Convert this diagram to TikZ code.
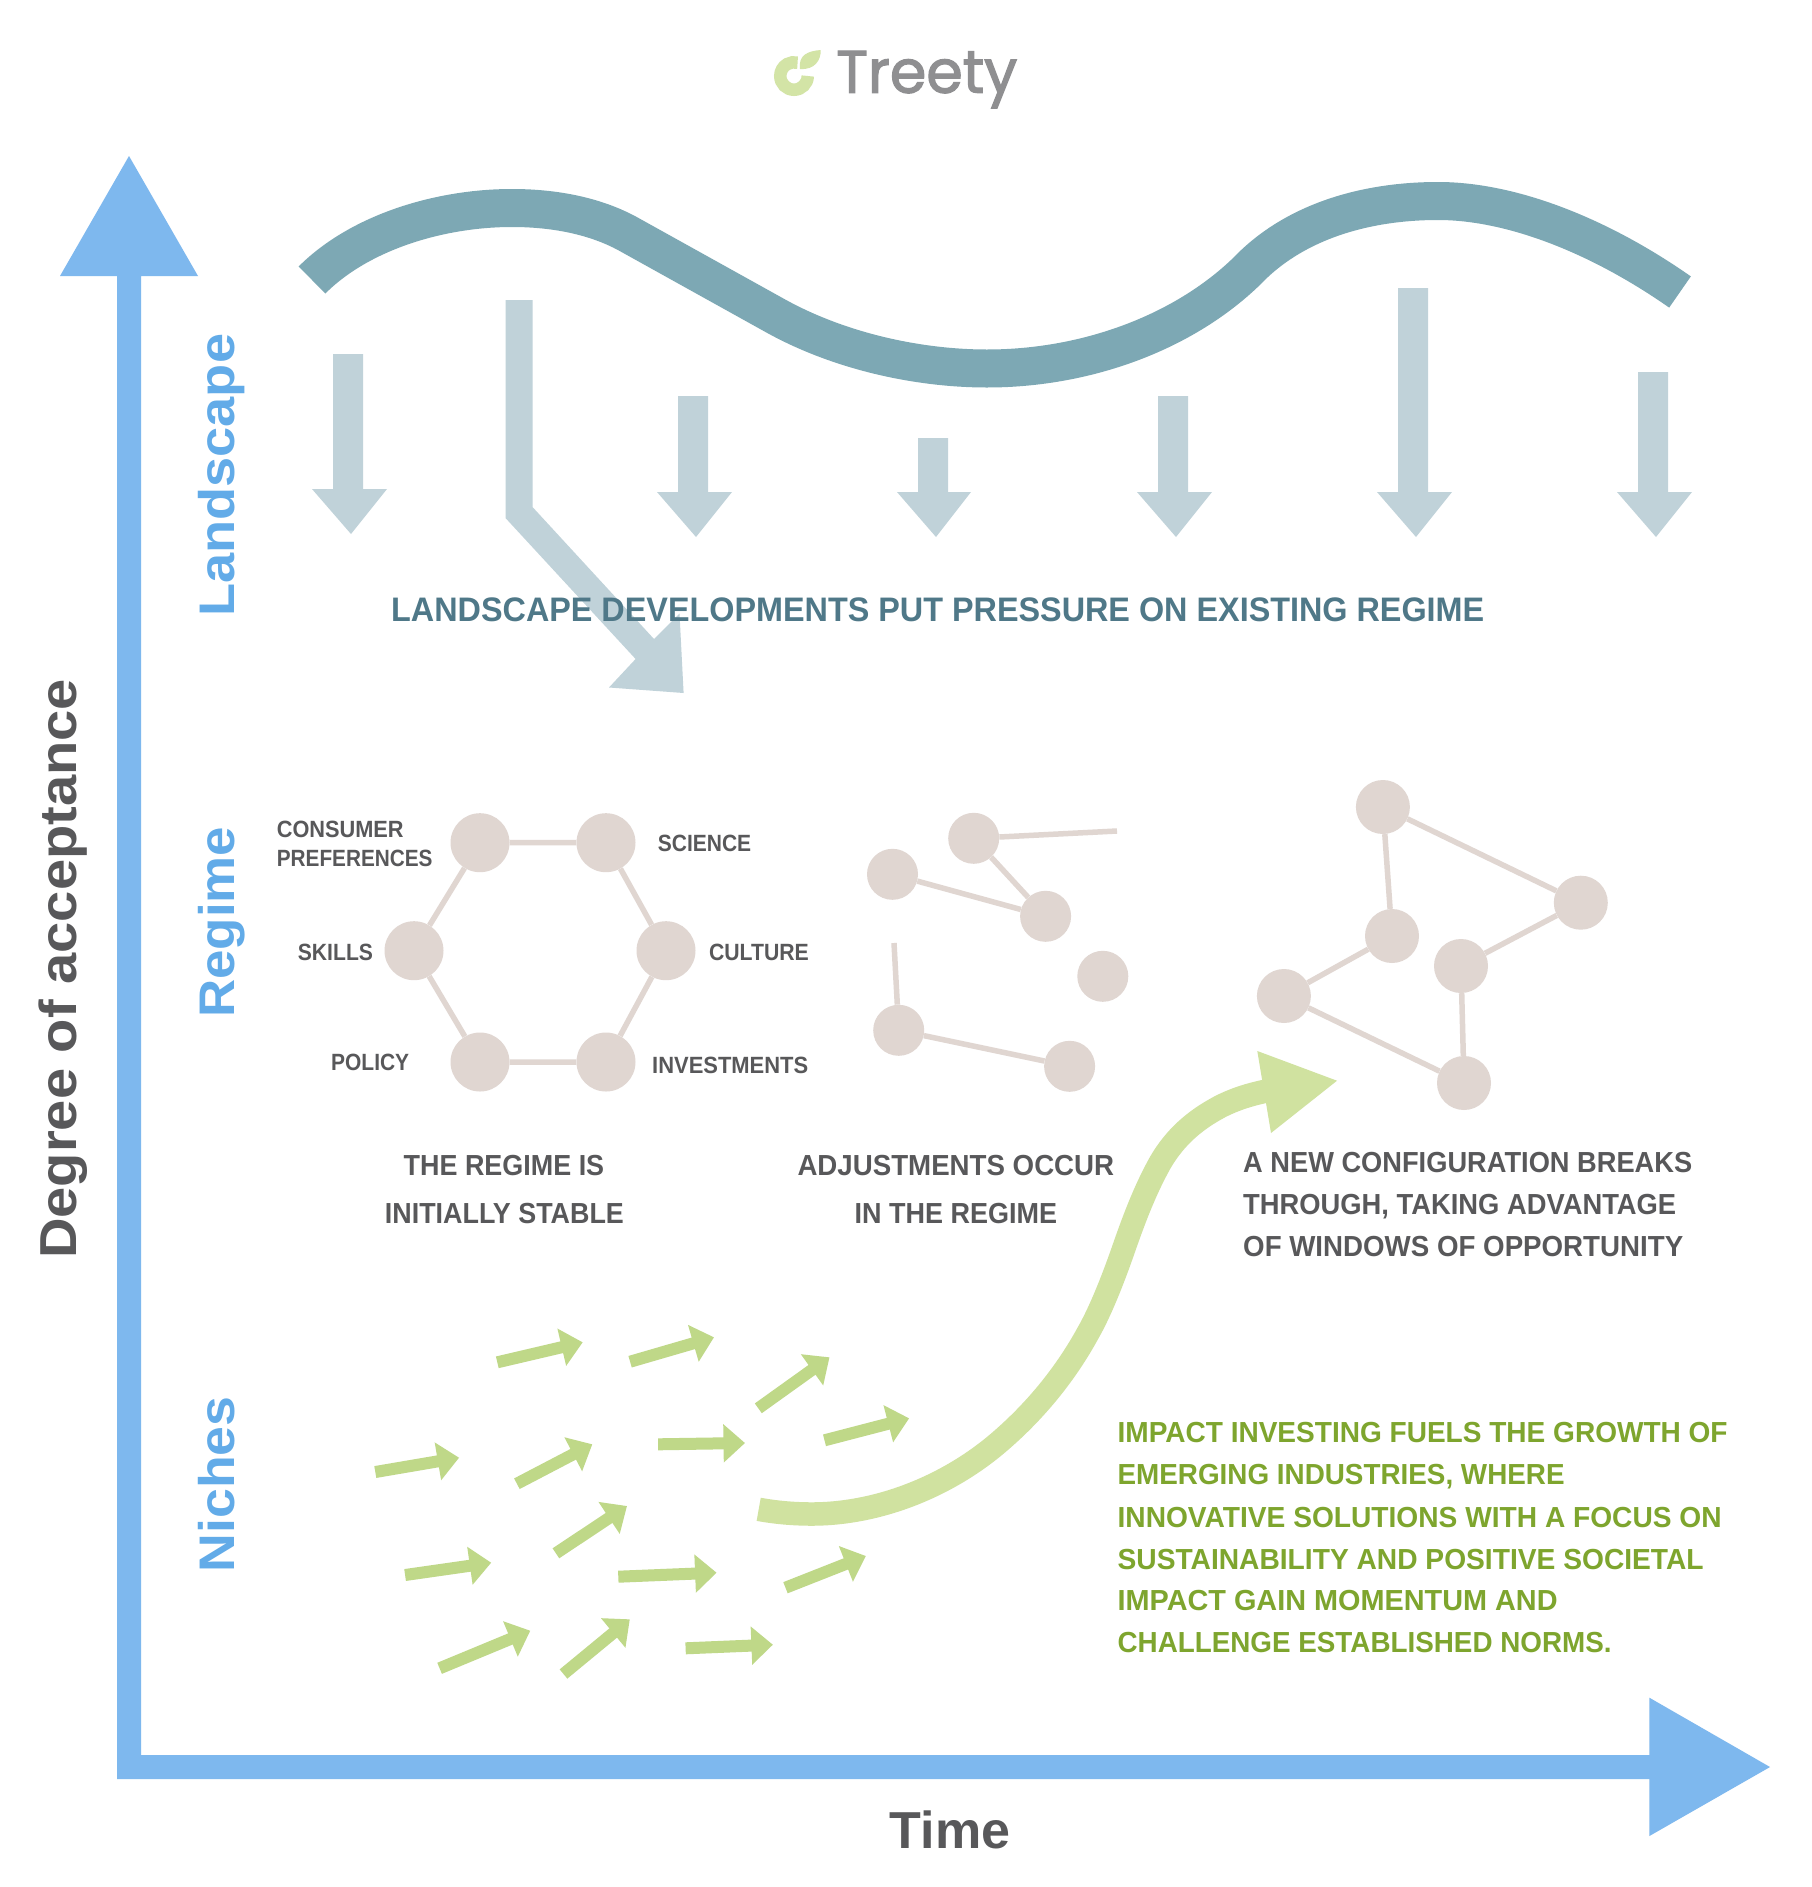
\documentclass[tikz,border=0pt]{standalone}
\usepackage{graphicx}
\usepackage{fontspec}
\setmainfont{Liberation Sans}
\newfontfamily\logofont[FakeBold=2]{Poppins}
\usetikzlibrary{arrows.meta}
\definecolor{axisblue}{HTML}{7EB8EE}
\definecolor{labelblue}{HTML}{62ABE8}
\definecolor{wavecol}{HTML}{7DA8B4}
\definecolor{pressure}{HTML}{C0D2D9}
\definecolor{tealtext}{HTML}{4F7888}
\definecolor{ink}{HTML}{58585A}
\definecolor{logogrey}{HTML}{8F8F91}
\definecolor{leaf}{HTML}{D3E4A6}
\definecolor{dot}{HTML}{E0D6D1}
\definecolor{bigarrow}{HTML}{D0E2A0}
\definecolor{smallarrow}{HTML}{BFD888}
\definecolor{olive}{HTML}{7EA52E}
\newcommand{\fw}[2]{\resizebox{#1pt}{\height}{#2}}
\tikzset{
  lbl/.style={inner sep=0pt,anchor=base west,font=\bfseries\fontsize{#1}{#1}\selectfont},
  taglbl/.style={lbl=23.5,text=ink},
  captext/.style={lbl=29,text=ink},
  grntext/.style={lbl=29,text=olive},
  sidelbl/.style={lbl=50,text=labelblue,rotate=90},
  dotbig/.style={circle,fill=dot,inner sep=0pt,minimum size=59pt},
  dotmid/.style={circle,fill=dot,inner sep=0pt,minimum size=51pt},
  dotlrg/.style={circle,fill=dot,inner sep=0pt,minimum size=54pt},
  linkline/.style={draw=dot,line width=5.5pt},
  sarrow/.style={draw=smallarrow,line width=12pt,-{Triangle[length=21.5pt,width=37pt]}},
}
\begin{document}
\begin{tikzpicture}[x=1pt,y=-1pt]
\useasboundingbox (0,0) rectangle (1812,1887);
\fill[white] (0,0) rectangle (1812,1887);
% logo
\draw[leaf,line width=12.5pt] (807.75,76) arc[start angle=0,end angle=285,radius=13.75];
\fill[leaf] (800,69) .. controls (798,55) and (808,51) .. (820.7,50) .. controls (821,60) and (815,70) .. (800,69) -- cycle;
\node[inner sep=0pt,anchor=base west,text=logogrey,font=\logofont\fontsize{60}{60}\selectfont] (logo) at (836,92.7) {\fw{181}{Treety}};
% axes
\fill[axisblue] (117,1779) -- (117,276) -- (60,276) -- (129,156) -- (198,276) -- (141,276) -- (141,1755) -- (1649.4,1755) -- (1649.4,1697.7) -- (1770,1767) -- (1649.4,1836) -- (1649.4,1779) -- cycle;
\node[lbl=52,text=ink,rotate=90] (yaxis) at (76,1259) {\fw{580}{Degree of acceptance}};
\node[lbl=52,text=ink] (xaxis) at (889.5,1848) {\fw{120.5}{Time}};
\node[sidelbl] (landscape) at (234,617) {\fw{283}{Landscape}};
\node[sidelbl] (regime) at (234,1018) {\fw{191}{Regime}};
\node[sidelbl] (niches) at (234,1572.5) {\fw{176}{Niches}};
% wave
\draw[wavecol,line width=38pt] (312,280) .. controls (360,232) and (440,208) .. (512,208) .. controls (560,208) and (600,218) .. (630,235) -- (774,315) .. controls (840,352) and (920,368.5) .. (987,368.5) .. controls (1090,368.5) and (1190,330) .. (1253,265) .. controls (1300,220) and (1368,201) .. (1438,201) .. controls (1512,201) and (1600,236) .. (1680,292);
% pressure arrows
\foreach \l/\r/\t/\s/\hl/\hr/\px/\py in {333/363/354/489/312/387/351/534,678/708/396/492/657/732/696/537,918/948/438/492/897/971/936/537,1158/1188/396/492/1137/1212/1176/537,1398/1428/288/492/1377/1452/1416/537,1638/1668/372/492/1617/1692/1656/537}
  \fill[pressure] (\l,\t) -- (\r,\t) -- (\r,\s) -- (\hr,\s) -- (\px,\py) -- (\hl,\s) -- (\l,\s) -- cycle;
\fill[pressure] (505.5,300) -- (532.5,300) -- (532.5,507) -- (654,639) -- (679.5,613.6) -- (683.6,693) -- (609,687.5) -- (635.6,659) -- (505.5,518) -- cycle;
\node[lbl=34,text=tealtext] (pressuretext) at (391,621) {\fw{1093}{LANDSCAPE DEVELOPMENTS PUT PRESSURE ON EXISTING REGIME}};
% stable regime
\node[dotbig] (a1) at (480,842.7) {};
\node[dotbig] (a2) at (606,842.7) {};
\node[dotbig] (a3) at (666,950.7) {};
\node[dotbig] (a4) at (606,1062) {};
\node[dotbig] (a5) at (480,1062) {};
\node[dotbig] (a6) at (414,950.7) {};
\draw[linkline] (a1)--(a2) (a2)--(a3) (a3)--(a4) (a4)--(a5) (a5)--(a6) (a6)--(a1);
\node[taglbl] (t1) at (276.6,837.5) {\fw{126.9}{CONSUMER}};
\node[taglbl] (t2) at (276.6,866.7) {\fw{155.8}{PREFERENCES}};
\node[taglbl] (t3) at (657.7,851.7) {\fw{93.3}{SCIENCE}};
\node[taglbl] (t4) at (297.7,960) {\fw{75.1}{SKILLS}};
\node[taglbl] (t5) at (708.8,960) {\fw{99.9}{CULTURE}};
\node[taglbl] (t6) at (331,1070.7) {\fw{78}{POLICY}};
\node[taglbl] (t7) at (652,1073.3) {\fw{156}{INVESTMENTS}};
\node[captext] (c1) at (403.5,1175.7) {\fw{200.5}{THE REGIME IS}};
\node[captext] (c2) at (384.7,1223.3) {\fw{239}{INITIALLY STABLE}};
% adjusting regime
\node[dotmid] (b1) at (973.7,838.3) {};
\node[dotmid] (b2) at (892.5,874.3) {};
\node[dotmid] (b3) at (1045.6,916.3) {};
\node[dotmid] (b4) at (1102.8,976.3) {};
\node[dotmid] (b5) at (898.7,1030.3) {};
\node[dotmid] (b6) at (1069.6,1066.3) {};
\coordinate (bf1) at (1117,831);
\coordinate (bf2) at (894,943);
\draw[linkline] (b1)--(bf1) (b1)--(b3) (b2)--(b3) (bf2)--(b5) (b5)--(b6);
\node[captext] (c3) at (797.3,1175.2) {\fw{316.7}{ADJUSTMENTS OCCUR}};
\node[captext] (c4) at (854.5,1223.3) {\fw{202.4}{IN THE REGIME}};
% new configuration
\node[dotlrg] (d1) at (1382.9,807) {};
\node[dotlrg] (d2) at (1580.8,902.7) {};
\node[dotlrg] (d3) at (1392,936) {};
\node[dotlrg] (d4) at (1461,966) {};
\node[dotlrg] (d5) at (1283.9,996) {};
\node[dotlrg] (d6) at (1464,1083) {};
\draw[linkline] (d1)--(d2) (d1)--(d3) (d3)--(d5) (d5)--(d6) (d6)--(d4) (d4)--(d2);
\node[captext] (c5) at (1243,1172.7) {\fw{449}{A NEW CONFIGURATION BREAKS}};
\node[captext] (c6) at (1243,1214) {\fw{433}{THROUGH, TAKING ADVANTAGE}};
\node[captext] (c7) at (1243,1256) {\fw{440}{OF WINDOWS OF OPPORTUNITY}};
% breakthrough arrow
\draw[bigarrow,line width=23.5pt] (758.7,1509.3) .. controls (776,1512.5) and (794,1514) .. (811.7,1514) .. controls (880,1514) and (950,1485) .. (1000.7,1440.7) .. controls (1035,1411) and (1065,1375) .. (1088,1333) .. controls (1100,1312) and (1112,1282) .. (1123,1250.7) .. controls (1134,1219) and (1145,1190) .. (1160,1163) .. controls (1175,1137) and (1195,1120) .. (1220,1106.7) .. controls (1235,1099) and (1250,1094.5) .. (1265,1091.3);
\fill[bigarrow] (1257.3,1051) -- (1337,1080.7) -- (1271,1133) -- cycle;
% niche arrows
\foreach \a/\b/\c/\d in {497.3/1362.3/582.7/1342.3,630.1/1361.7/714/1337.3,758.3/1408.3/829.5/1357.3,824.5/1440.3/909.1/1418.3,375.3/1472/459.1/1457.7,516.9/1483.7/592.3/1444.3,658.1/1444.3/745/1443,555.9/1553.3/627/1506,405.1/1575/491.2/1562.7,618.3/1576.7/716.6/1572.7,785.5/1587.7/865.9/1556,439.6/1668.3/530.3/1630.7,563.5/1674/629.8/1619.3,685.6/1648.3/772.9/1644.7}
  \draw[sarrow] (\a,\b) -- (\c,\d);
% niche text
\node[grntext] (g1) at (1117.4,1442.8) {\fw{610}{IMPACT INVESTING FUELS THE GROWTH OF}};
\node[grntext] (g2) at (1117.4,1484.9) {\fw{447}{EMERGING INDUSTRIES, WHERE}};
\node[grntext] (g3) at (1117.4,1527) {\fw{604}{INNOVATIVE SOLUTIONS WITH A FOCUS ON}};
\node[grntext] (g4) at (1117.4,1569) {\fw{586}{SUSTAINABILITY AND POSITIVE SOCIETAL}};
\node[grntext] (g5) at (1117.4,1610.6) {\fw{440}{IMPACT GAIN MOMENTUM AND}};
\node[grntext] (g6) at (1117.4,1652.7) {\fw{494}{CHALLENGE ESTABLISHED NORMS.}};
\end{tikzpicture}
\end{document}
